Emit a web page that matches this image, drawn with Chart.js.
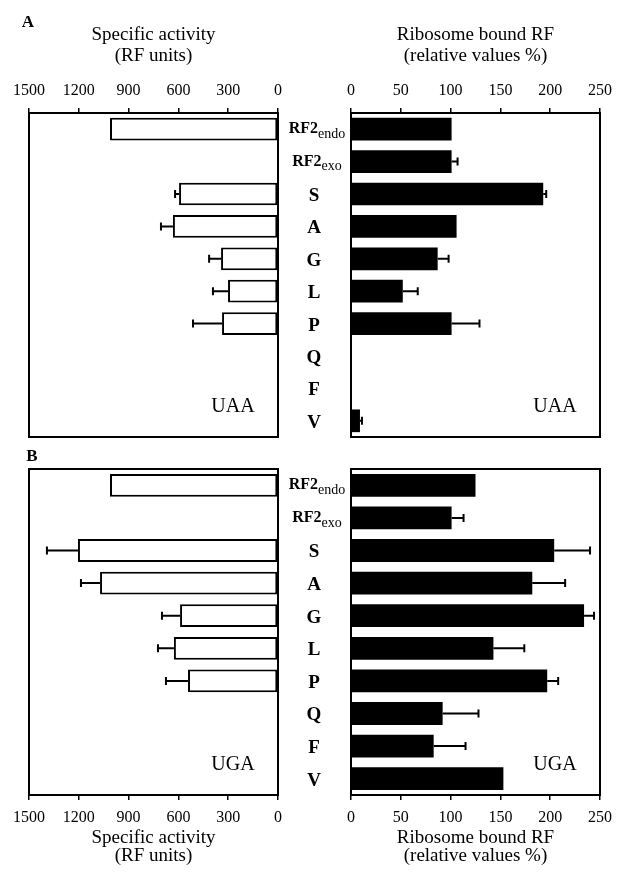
<!DOCTYPE html>
<html>
<head>
<meta charset="utf-8">
<script src="https://cdn.jsdelivr.net/npm/chart.js@4.4.0/dist/chart.umd.min.js"></script>
<style>
  body { margin: 0; background: #fff; }
  #wrap { position: relative; width: 632px; height: 873px; }
  #wrap canvas { position: absolute; left: 0; top: 0; }
</style>
</head>
<body>
<div id="wrap">
  <canvas id="aLeft" width="632" height="873"></canvas>
  <canvas id="aRight" width="632" height="873"></canvas>
  <canvas id="bLeft" width="632" height="873"></canvas>
  <canvas id="bRight" width="632" height="873"></canvas>
</div>
<script>
const categories = ['RF2endo', 'RF2exo', 'S', 'A', 'G', 'L', 'P', 'Q', 'F', 'V'];
const activityTicks = [0, 300, 600, 900, 1200, 1500];
const boundTicks = [0, 50, 100, 150, 200, 250];

// A: UAA
const uaaActivity = [1012, null, 596, 633, 343, 301, 337, null, null, null];
const uaaActivityErr = [0, 0, 24, 72, 72, 91, 175, 0, 0, 0];
const uaaBound = [101, 101, 193, 106, 87, 52, 101, null, null, 9];
const uaaBoundErr = [0, 6, 3, 0, 11, 15, 28, 0, 0, 2];

// B: UGA
const ugaActivity = [1012, null, 1205, 1072, 590, 627, 542, null, null, null];
const ugaActivityErr = [0, 0, 187, 115, 109, 96, 133, 0, 0, 0];
const ugaBound = [125, 101, 204, 182, 234, 143, 197, 92, 83, 153];
const ugaBoundErr = [0, 12, 36, 33, 10, 31, 11, 36, 32, 0];

const SERIF = '"Liberation Serif", "DejaVu Serif", serif';

// error bars + frame
const extras = {
  id: 'extras',
  afterDatasetsDraw(chart, args, o) {
    const ctx = chart.ctx;
    const xs = chart.scales.x;
    const meta = chart.getDatasetMeta(0);
    const vals = chart.data.datasets[0].data;
    ctx.save();
    ctx.strokeStyle = '#000';
    ctx.lineWidth = 2;
    o.errs.forEach((e, i) => {
      if (!e || vals[i] == null) return;
      const y = meta.data[i].y;
      const x0 = xs.getPixelForValue(vals[i]);
      const x1 = xs.getPixelForValue(vals[i] + e);
      ctx.beginPath();
      ctx.moveTo(x0, y);
      ctx.lineTo(x1, y);
      ctx.moveTo(x1, y - 4);
      ctx.lineTo(x1, y + 4);
      ctx.stroke();
    });
    const a = chart.chartArea;
    ctx.strokeRect(a.left, a.top, a.right - a.left, a.bottom - a.top);
    ctx.restore();
  },
  afterDraw(chart, args, o) {
    const ctx = chart.ctx;
    const a = chart.chartArea;
    const cx = (a.left + a.right) / 2;
    ctx.save();
    ctx.fillStyle = '#000';
    ctx.textAlign = 'center';
    ctx.textBaseline = 'middle';
    ctx.font = '19px ' + SERIF;
    o.title.forEach((t, i) => ctx.fillText(t, cx, o.titleY[i]));
    ctx.font = '20px ' + SERIF;
    ctx.fillText(o.codon, a.right - 45, a.bottom - 30);
    if (o.letter) {
      ctx.font = 'bold 17px ' + SERIF;
      ctx.fillText(o.letter[0], o.letter[1], o.letter[2]);
    }
    if (o.rowLabels) {
      const ys = chart.scales.y;
      categories.forEach((c, i) => {
        const y = ys.getPixelForValue(i) + 2;
        if (c.startsWith('RF2')) {
          const sub = c.slice(3);
          ctx.font = 'bold 16px ' + SERIF;
          const w1 = ctx.measureText('RF2').width;
          ctx.font = '14px ' + SERIF;
          const w2 = ctx.measureText(sub).width;
          const x = 317 - (w1 + w2) / 2;
          ctx.textAlign = 'left';
          ctx.font = 'bold 16px ' + SERIF;
          ctx.fillText('RF2', x, y - 2);
          ctx.font = '14px ' + SERIF;
          ctx.fillText(sub, x + w1, y + 3);
          ctx.textAlign = 'center';
        } else {
          ctx.font = 'bold 19px ' + SERIF;
          ctx.fillText(c, 314, y);
        }
      });
    }
    ctx.restore();
  }
};

function makeChart(id, values, errs, cfg) {
  const top = cfg.axisPos === 'top';
  return new Chart(document.getElementById(id), {
    type: 'bar',
    data: {
      labels: categories,
      datasets: [{
        data: values,
        backgroundColor: cfg.fill,
        borderColor: '#000',
        borderWidth: cfg.border,
        borderSkipped: false,
        barPercentage: 0.7,
        categoryPercentage: 1
      }]
    },
    options: {
      indexAxis: 'y',
      responsive: false,
      animation: false,
      devicePixelRatio: 1,
      layout: { padding: cfg.padding },
      scales: {
        x: {
          position: cfg.axisPos,
          reverse: cfg.reverse,
          min: 0,
          max: cfg.ticks[cfg.ticks.length - 1],
          afterBuildTicks: s => { s.ticks = cfg.ticks.map(v => ({ value: v })); },
          afterFit: s => { s.height = cfg.axisHeight; },
          grid: { display: true, drawOnChartArea: false, drawTicks: true, tickLength: 5, color: '#000', lineWidth: 1.5 },
          border: { display: true, color: '#000', width: 2 },
          ticks: {
            color: '#000', padding: 8, maxRotation: 0, autoSkip: false,
            font: { family: SERIF, size: 16 },
            callback: v => String(v)
          }
        },
        y: { display: false }
      },
      plugins: {
        legend: { display: false },
        tooltip: { enabled: false },
        extras: {
          errs: errs,
          title: cfg.title,
          titleY: top ? [35, 56] : [838, 856],
          codon: cfg.codon,
          letter: cfg.letter,
          rowLabels: cfg.rowLabels
        }
      }
    },
    plugins: [extras]
  });
}

const leftTitle = ['Specific activity', '(RF units)'];
const rightTitle = ['Ribosome bound RF', '(relative values %)'];

makeChart('aLeft', uaaActivity, uaaActivityErr, {
  axisPos: 'top', reverse: true, ticks: activityTicks, fill: '#fff', border: 2,
  padding: { left: 29, right: 354, top: 0, bottom: 436 }, axisHeight: 113,
  title: leftTitle, codon: 'UAA', letter: ['A', 28, 23]
});
makeChart('aRight', uaaBound, uaaBoundErr, {
  axisPos: 'top', reverse: false, ticks: boundTicks, fill: '#000', border: 0,
  padding: { left: 351, right: 32, top: 0, bottom: 436 }, axisHeight: 113,
  title: rightTitle, codon: 'UAA', rowLabels: true
});
makeChart('bLeft', ugaActivity, ugaActivityErr, {
  axisPos: 'bottom', reverse: true, ticks: activityTicks, fill: '#fff', border: 2,
  padding: { left: 29, right: 354, top: 469, bottom: 0 }, axisHeight: 78,
  title: leftTitle, codon: 'UGA', letter: ['B', 32, 457]
});
makeChart('bRight', ugaBound, ugaBoundErr, {
  axisPos: 'bottom', reverse: false, ticks: boundTicks, fill: '#000', border: 0,
  padding: { left: 351, right: 32, top: 469, bottom: 0 }, axisHeight: 78,
  title: rightTitle, codon: 'UGA', rowLabels: true
});
</script>
</body>
</html>
